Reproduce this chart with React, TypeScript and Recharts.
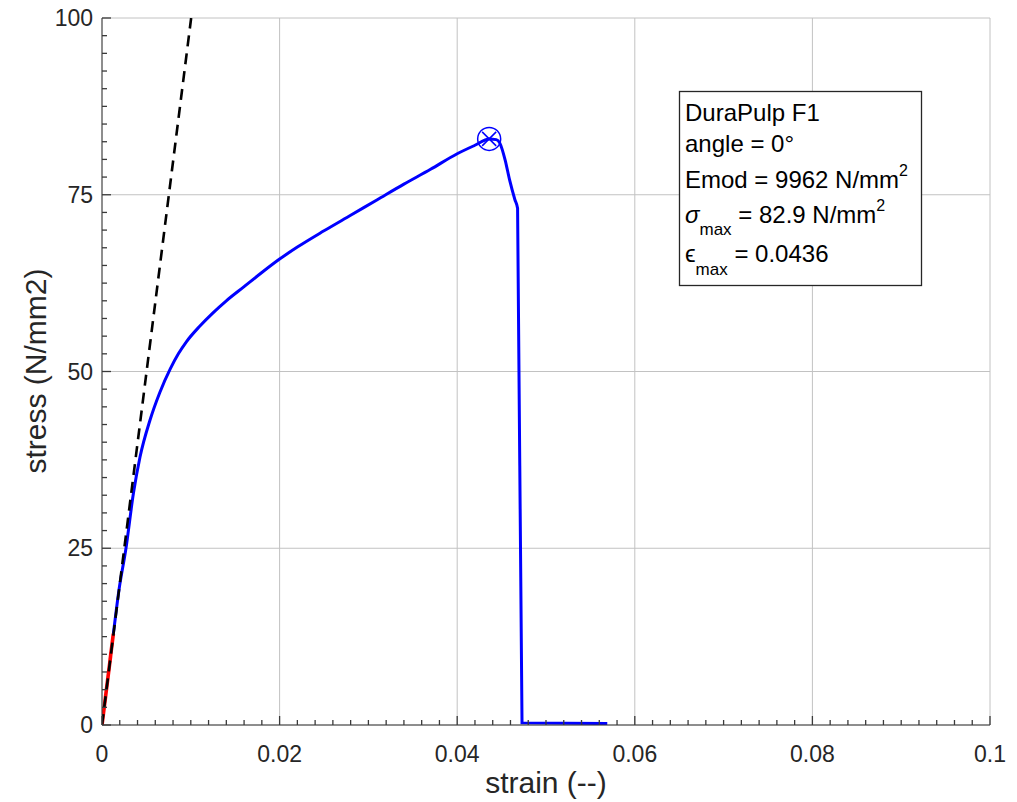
import { ComposedChart, Line, Scatter, XAxis, YAxis, CartesianGrid } from "recharts";

const strain = [
  0.00128, 0.0019, 0.0027, 0.00353, 0.00428, 0.0054, 0.0065, 0.0077, 0.0086, 0.0095,
  0.011, 0.0125, 0.014, 0.016, 0.018, 0.02, 0.022, 0.025, 0.028, 0.031,
  0.034, 0.037, 0.04, 0.042, 0.0436, 0.0444, 0.0448, 0.0454, 0.0459, 0.0465,
  0.0468, 0.0473, 0.0569,
];
const stress = [
  12.9, 19.0, 25.0, 32.7, 37.9, 43.1, 47.0, 50.4, 52.5, 54.2,
  56.4, 58.3, 60.0, 62.0, 64.0, 65.9, 67.6, 69.9, 72.1, 74.3,
  76.5, 78.6, 80.8, 82.0, 82.9, 82.8, 82.3, 79.9, 77.1, 74.3,
  73.1, 0.3, 0.2,
];

// red part used for the modulus fit
const fitRangeStrain = [0, 0.00128];
const fitRangeStress = [0, 12.9];

// elastic line, Emod = 9962 N/mm2
const emodStrain = [0, 0.01004];
const emodStress = [0, 100];

const peakStrain = [0.0436];
const peakStress = [82.9];

const xMajor = [0, 0.02, 0.04, 0.06, 0.08, 0.1];
const xLabels = ["0", "0.02", "0.04", "0.06", "0.08", "0.1"];
const yMajor = [0, 25, 50, 75, 100];
const yLabels = ["0", "25", "50", "75", "100"];
const minorPerMajor = 10;

const FONT = '"Liberation Sans", Arial, Helvetica, sans-serif';
const AXIS = "#3a3a3a";
const TEXT = "#262626";

const toPoints = (xs: number[], ys: number[]) => xs.map((x, i) => ({ x, y: ys[i] }));

function withMinor(major: number[]) {
  const out: number[] = [];
  for (let i = 0; i < major.length - 1; i++) {
    for (let k = 0; k < minorPerMajor; k++) {
      out.push(Number((major[i] + ((major[i + 1] - major[i]) * k) / minorPerMajor).toFixed(6)));
    }
  }
  out.push(major[major.length - 1]);
  return out;
}

const xTicks = withMinor(xMajor);
const yTicks = withMinor(yMajor);

const majorIndex = (list: number[], v: number) => list.findIndex((m) => Math.abs(m - v) < 1e-9);

function BottomTick({ x, y, payload }: any) {
  const i = majorIndex(xMajor, payload.value);
  return (
    <g>
      <line x1={x} x2={x} y1={y} y2={y - (i >= 0 ? 9 : 5)} stroke={AXIS} strokeWidth={1.3} />
      {i >= 0 && (
        <text x={x} y={y + 37} textAnchor="middle" fontSize={23} fontFamily={FONT} fill={TEXT}>
          {xLabels[i]}
        </text>
      )}
    </g>
  );
}

function TopTick({ x, y, payload }: any) {
  const i = majorIndex(xMajor, payload.value);
  return <line x1={x} x2={x} y1={y} y2={y + (i >= 0 ? 9 : 5)} stroke={AXIS} strokeWidth={1.3} />;
}

function LeftTick({ x, y, payload }: any) {
  const i = majorIndex(yMajor, payload.value);
  return (
    <g>
      <line x1={x} x2={x + (i >= 0 ? 9 : 5)} y1={y} y2={y} stroke={AXIS} strokeWidth={1.3} />
      {i >= 0 && (
        <text x={x - 9} y={y + 8} textAnchor="end" fontSize={23} fontFamily={FONT} fill={TEXT}>
          {yLabels[i]}
        </text>
      )}
    </g>
  );
}

function RightTick({ x, y, payload }: any) {
  const i = majorIndex(yMajor, payload.value);
  return <line x1={x} x2={x - (i >= 0 ? 9 : 5)} y1={y} y2={y} stroke={AXIS} strokeWidth={1.3} />;
}

function PeakMarker({ cx, cy }: any) {
  const r = 11.5;
  const d = 7;
  return (
    <g fill="none" stroke="#0000ff" strokeWidth={1.5}>
      <circle cx={cx} cy={cy} r={r} />
      <line x1={cx - d} y1={cy - d} x2={cx + d} y2={cy + d} />
      <line x1={cx - d} y1={cy + d} x2={cx + d} y2={cy - d} />
    </g>
  );
}

export default function App() {
  const curve = toPoints(strain, stress);
  const fitRange = toPoints(fitRangeStrain, fitRangeStress);
  const emod = toPoints(emodStrain, emodStress);
  const peak = toPoints(peakStrain, peakStress);

  return (
    <div style={{ position: "absolute", left: 0, top: 0, width: 1017, height: 802, background: "#fff" }}>
      <ComposedChart width={1017} height={802} margin={{ top: 18, right: 27, left: 0, bottom: 0 }}>
        <CartesianGrid verticalValues={xMajor} horizontalValues={yMajor} stroke="#c2c2c2" strokeWidth={1} />
        <XAxis
          dataKey="x"
          type="number"
          domain={[0, 0.1]}
          ticks={xTicks}
          interval={0}
          allowDataOverflow
          height={77}
          tickSize={0}
          tickMargin={0}
          tickLine={false}
          tick={<BottomTick />}
          axisLine={{ stroke: AXIS }}
        />
        <XAxis
          xAxisId="top"
          orientation="top"
          dataKey="x"
          type="number"
          domain={[0, 0.1]}
          ticks={xTicks}
          interval={0}
          height={0}
          tickSize={0}
          tickMargin={0}
          tickLine={false}
          tick={<TopTick />}
          axisLine={{ stroke: AXIS }}
        />
        <YAxis
          type="number"
          domain={[0, 100]}
          ticks={yTicks}
          interval={0}
          allowDataOverflow
          width={102}
          tickSize={0}
          tickMargin={0}
          tickLine={false}
          tick={<LeftTick />}
          axisLine={{ stroke: AXIS }}
        />
        <YAxis
          yAxisId="right"
          orientation="right"
          type="number"
          domain={[0, 100]}
          ticks={yTicks}
          interval={0}
          width={0}
          tickSize={0}
          tickMargin={0}
          tickLine={false}
          tick={<RightTick />}
          axisLine={{ stroke: AXIS }}
        />
        <Line data={curve} dataKey="y" type="monotone" stroke="#0000ff" strokeWidth={3} dot={false} isAnimationActive={false} />
        <Line data={fitRange} dataKey="y" type="linear" stroke="#ff0000" strokeWidth={3.6} dot={false} isAnimationActive={false} />
        <Line
          data={emod}
          dataKey="y"
          type="linear"
          stroke="#000"
          strokeWidth={2.6}
          strokeDasharray="11 7"
          dot={false}
          isAnimationActive={false}
        />
        <Scatter data={peak} dataKey="y" shape={<PeakMarker />} isAnimationActive={false} />
      </ComposedChart>

      <svg
        width={1017}
        height={802}
        style={{ position: "absolute", left: 0, top: 0, pointerEvents: "none" }}
        fontFamily={FONT}
        fill={TEXT}
      >
        <text x={546} y={793} textAnchor="middle" fontSize={30}>
          strain (--)
        </text>
        <text transform="translate(46,371) rotate(-90)" textAnchor="middle" fontSize={30}>
          stress (N/mm2)
        </text>

        <rect x={679.5} y={91.5} width={242} height={194} fill="#fff" stroke="#262626" strokeWidth={1.3} />
        <g fontSize={24} fill="#000">
          <text x={685} y={121}>DuraPulp F1</text>
          <text x={685} y={152}>angle = 0°</text>
          <text x={685} y={188}>
            Emod = 9962 N/mm<tspan dy={-12} fontSize={16}>2</tspan>
          </text>
          <text x={685} y={223}>
            <tspan fontStyle="italic">σ</tspan>
            <tspan dy={12} fontSize={17}>max</tspan>
            <tspan dy={-12}> = 82.9 N/mm</tspan>
            <tspan dy={-12} fontSize={16}>2</tspan>
          </text>
          <text x={685} y={262}>
            <tspan>ϵ</tspan>
            <tspan dy={13} fontSize={17}>max</tspan>
            <tspan dy={-13}> = 0.0436</tspan>
          </text>
        </g>
      </svg>
    </div>
  );
}
